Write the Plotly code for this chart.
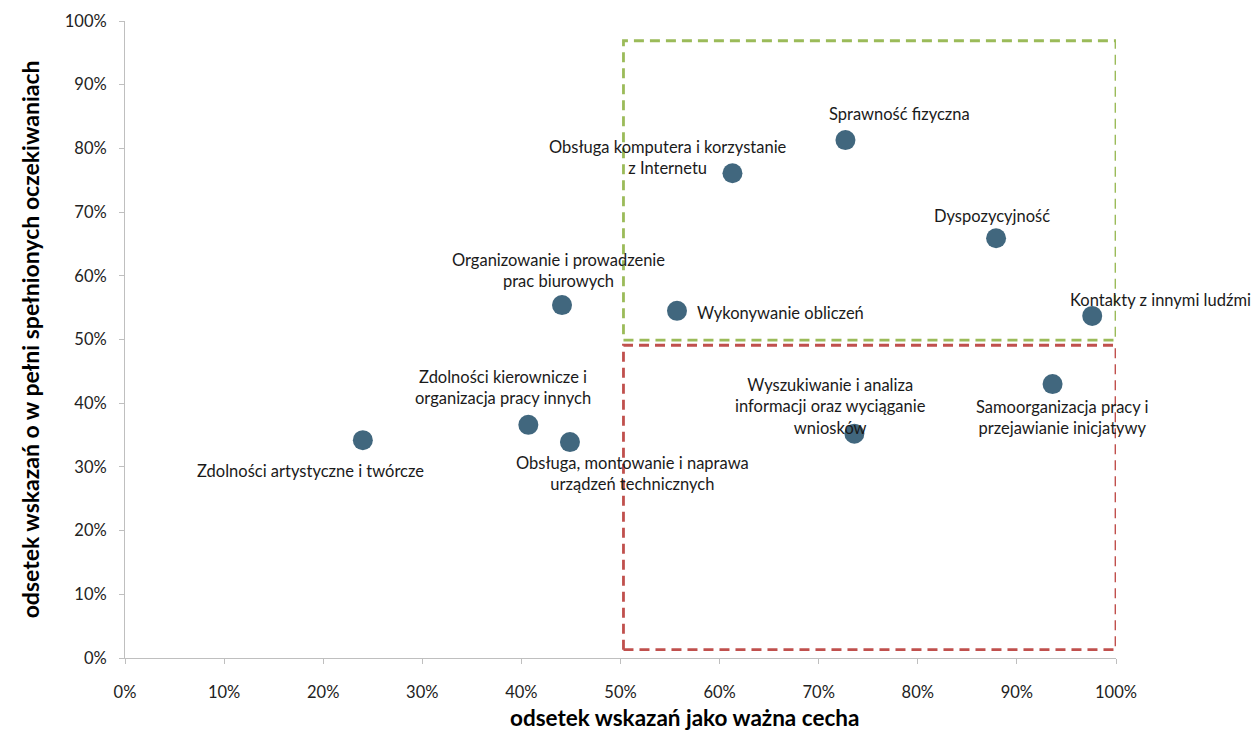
import plotly.graph_objects as go

# ---- data ----
labels = [
    "Zdolności artystyczne i twórcze",
    "Zdolności kierownicze i<br>organizacja pracy innych",
    "Obsługa, montowanie i naprawa<br>urządzeń technicznych",
    "Organizowanie i prowadzenie<br>prac biurowych",
    "Wykonywanie obliczeń",
    "Obsługa komputera i korzystanie<br>z Internetu",
    "Sprawność fizyczna",
    "Dyspozycyjność",
    "Kontakty z innymi ludźmi",
    "Samoorganizacja pracy i<br>przejawianie inicjatywy",
    "Wyszukiwanie i analiza<br>informacji oraz wyciąganie<br>wniosków",
]
x_important = [0.240, 0.407, 0.449, 0.441, 0.557, 0.613, 0.727, 0.879, 0.976, 0.936, 0.736]
y_fulfilled = [0.342, 0.366, 0.339, 0.554, 0.545, 0.761, 0.813, 0.659, 0.537, 0.430, 0.352]

# label offsets in pixels (dx, dy) and anchor
label_dx = [-52, -25, 63, -4, 18, -64, 54, -4, 68, 10, -24]
label_dy = [-31, 37, -31, 35, -2, 16, 26, 22, 16, -33, 27]
label_anchor = ["center", "center", "center", "center", "left", "center",
                "center", "center", "center", "center", "center"]

tick_vals = [i / 10 for i in range(11)]
tick_text = [f"{i*10}%" for i in range(11)]

# quadrant boxes: (x0, x1, y0, y1, color)
boxes = [
    (0.503, 1.0, 0.499, 0.969, "#9BBB59"),
    (0.503, 1.0, 0.013, 0.491, "#C0504D"),
]

x_title = "odsetek wskazań jako ważna cecha"
y_title = "odsetek wskazań o w pełni spełnionych oczekiwaniach"

FONT = "Lato, Carlito, Calibri, sans-serif"

fig = go.Figure()
fig.add_trace(go.Scatter(
    x=x_important, y=y_fulfilled, mode="markers",
    marker=dict(size=20, color="#41677E"),
    hoverinfo="skip", showlegend=False,
))

for (x0, x1, y0, y1, c) in boxes:
    fig.add_shape(type="rect", xref="x", yref="y", x0=x0, x1=x1, y0=y0, y1=y1,
                  line=dict(color=c, width=2.8, dash="10px,6px"),
                  fillcolor="rgba(0,0,0,0)", layer="below")

for t, x, y, dx, dy, a in zip(labels, x_important, y_fulfilled, label_dx, label_dy, label_anchor):
    fig.add_annotation(x=x, y=y, text=t, showarrow=False, xshift=dx, yshift=dy,
                       xanchor=a, yanchor="middle", align="center",
                       font=dict(family=FONT, size=16.5, color="#1a1a1a"))

fig.add_annotation(xref="paper", yref="paper", x=0.565, y=-0.094, text=f"<b>{x_title}</b>",
                   showarrow=False, xanchor="center", yanchor="middle",
                   font=dict(family=FONT, size=22.5, color="#000000"))
fig.add_annotation(xref="paper", yref="paper", x=-0.096, y=0.5, text=f"<b>{y_title}</b>",
                   showarrow=False, textangle=-90, xanchor="center", yanchor="middle",
                   font=dict(family=FONT, size=23, color="#000000"))

axis_common = dict(
    range=[0, 1], tickvals=tick_vals, ticktext=tick_text,
    showgrid=False, zeroline=False, showline=True, linecolor="#BFBFBF", linewidth=1,
    ticks="outside", ticklen=5, tickcolor="#BFBFBF",
    tickfont=dict(family=FONT, size=16.5, color="#222222"),
)

fig.update_layout(
    width=1254, height=731,
    margin=dict(l=125, r=138, t=21, b=73),
    plot_bgcolor="white", paper_bgcolor="white",
    xaxis=dict(**axis_common, ticklabelstandoff=14),
    yaxis=dict(**axis_common, ticklabelstandoff=9),
)

fig.write_html("out.html")
